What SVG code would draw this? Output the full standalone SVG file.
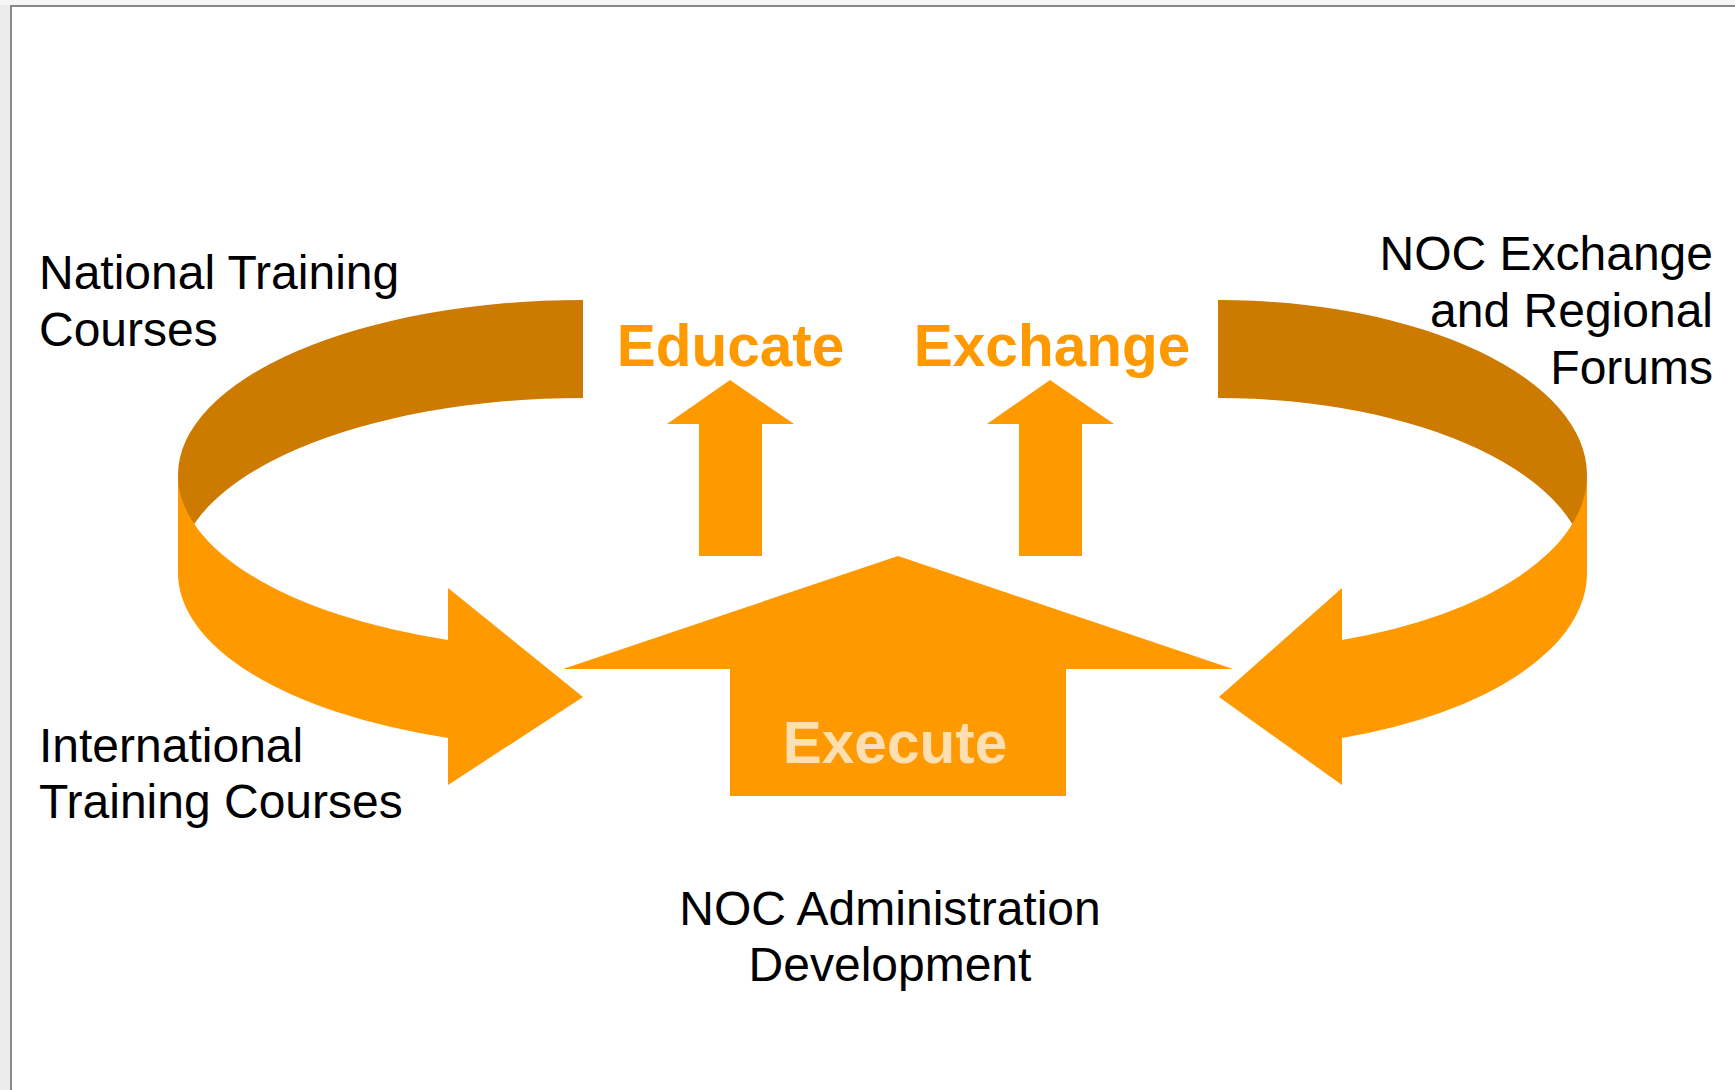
<svg xmlns="http://www.w3.org/2000/svg" width="1735" height="1090" viewBox="0 0 1735 1090">
<style>
.lbl{font-family:"Liberation Sans",Arial,sans-serif;font-size:48px;fill:#000}
.big{font-family:"Liberation Sans",Arial,sans-serif;font-size:58.5px;font-weight:bold;text-anchor:middle}
.or{fill:#FF9900}
.br{fill:#CC7A00}
</style>
<rect x="0" y="0" width="1735" height="1090" fill="#ffffff"/>
<rect x="0" y="0" width="10" height="1090" fill="#ececec"/>
<rect x="0" y="0" width="1735" height="5" fill="#f6f6f6"/>
<rect x="10" y="5" width="1725" height="2" fill="#888888"/>
<rect x="10" y="5" width="2" height="1085" fill="#888888"/>

<g id="connectors">
  <g id="ring-left">
    <path class="br" d="M583,300 A405,175 0 0 0 178,475 L178,573 A405,175 0 0 1 583,398 Z"/>
    <path class="or" d="M178,475 A405,175 0 0 0 448,640 L448,588 L583,697 L448,785 L448,738 A405,175 0 0 1 178,573 Z"/>
  </g>
  <g id="ring-right">
    <path class="br" d="M1218,300 A369,175 0 0 1 1587,475 L1587,573 A369,175 0 0 0 1218,398 Z"/>
    <path class="or" d="M1587,475 A369,175 0 0 1 1342,640 L1342,588 L1219,697 L1342,785 L1342,738 A369,175 0 0 0 1587,573 Z"/>
  </g>
  <polygon id="arrow-educate" class="or" points="730,380 794,424 762,424 762,556 699,556 699,424 667,424"/>
  <polygon id="arrow-exchange" class="or" points="1050,380 1114,424 1082,424 1082,556 1019,556 1019,424 987,424"/>
</g>

<g id="node-execute">
  <polygon class="or" points="898,556 1233,669 1066,669 1066,796 730,796 730,669 563,669"/>
  <text class="big" x="895" y="763" fill="#FDDFB2">Execute</text>
</g>
<g id="node-educate">
  <text class="big" x="730.5" y="366" fill="#FF9900">Educate</text>
</g>
<g id="node-exchange">
  <text class="big" x="1052" y="366" fill="#FF9900">Exchange</text>
</g>
<g id="node-national">
  <text class="lbl" x="39" y="289">National Training</text>
  <text class="lbl" x="39" y="346">Courses</text>
</g>
<g id="node-international">
  <text class="lbl" x="39" y="762">International</text>
  <text class="lbl" x="39" y="818">Training Courses</text>
</g>
<g id="node-noc-exchange">
  <text class="lbl" x="1713" y="270" text-anchor="end">NOC Exchange</text>
  <text class="lbl" x="1713" y="327" text-anchor="end">and Regional</text>
  <text class="lbl" x="1713" y="384" text-anchor="end">Forums</text>
</g>
<g id="node-noc-admin">
  <text class="lbl" x="890" y="925" text-anchor="middle">NOC Administration</text>
  <text class="lbl" x="890" y="981" text-anchor="middle">Development</text>
</g>
</svg>
